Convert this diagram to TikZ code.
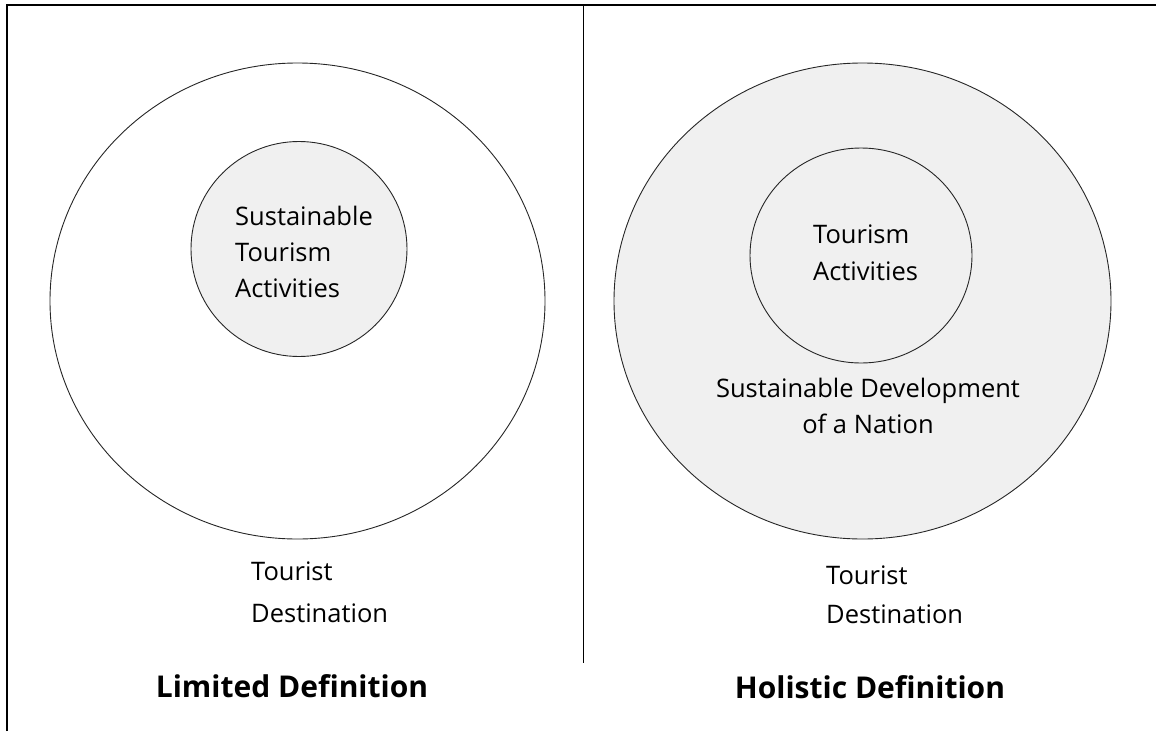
\documentclass[tikz,border=0pt]{standalone}
\usepackage{fontspec}
\setmainfont{Open Sans}
\usetikzlibrary{positioning,shapes.geometric}

\begin{document}
\begin{tikzpicture}[x=1pt,y=-1pt,
    ring/.style={ellipse,draw=black!85,line width=0.9pt,inner sep=0pt},
    soft ring/.style={ring,fill=black!6},
    label text/.style={inner sep=0pt,align=left,font=\fontsize{25.5}{37}\selectfont},
    title text/.style={inner sep=0pt,font=\bfseries\fontsize{30}{32}\selectfont}]
  \useasboundingbox (0,0) rectangle (1156,731);
  % frame and divider
  \coordinate (framebl) at (7,731);
  \coordinate (frametl) at (7,5);
  \coordinate (frametr) at (1156,5);
  \coordinate (divtop) at (583,5);
  \coordinate (divbot) at (583,663);
  \draw[line width=2pt] (framebl) -- (frametl) -- (frametr);
  \draw[line width=1pt] (divtop) -- (divbot);
  % limited definition (base anchor sits on the last line)
  \node[ring,minimum width=495pt,minimum height=476pt] (lim outer) at (297.5,301) {};
  \node[soft ring,minimum width=216pt,minimum height=215pt] (lim inner) at (299,249) {};
  \node[label text,anchor=base west] (lim act) at (235,297) {Sustainable\\[-1pt]Tourism\\[-1pt]Activities};
  \node[label text,anchor=base west] (lim dest) at (251,622) {Tourist\\[5pt]Destination};
  \node[title text,anchor=base] (lim title) at (292,697) {Limited Definition};
  % holistic definition
  \node[soft ring,minimum width=497pt,minimum height=476pt] (hol outer) at (862.5,301) {};
  \node[ring,minimum width=222pt,minimum height=215pt] (hol inner) at (861,255.5) {};
  \node[label text,anchor=base west] (hol act) at (813,280) {Tourism\\Activities};
  \node[label text,align=center,anchor=base] (hol nation) at (868,433) {Sustainable Development\\[-1pt]of a Nation};
  \node[label text,anchor=base west] (hol dest) at (826,623) {Tourist\\[2pt]Destination};
  \node[title text,anchor=base] (hol title) at (870,698) {Holistic Definition};
\end{tikzpicture}
\end{document}
